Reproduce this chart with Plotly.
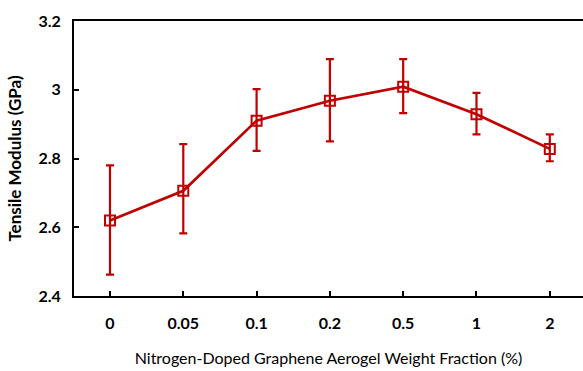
import plotly.graph_objects as go

categories = ["0", "0.05", "0.1", "0.2", "0.5", "1", "2"]
modulus = [2.62, 2.706, 2.91, 2.968, 3.009, 2.929, 2.828]
err_plus = [0.16, 0.136, 0.092, 0.121, 0.080, 0.062, 0.042]
err_minus = [0.158, 0.124, 0.088, 0.118, 0.077, 0.059, 0.036]

red = "#C00000"
font_family = "Lato, 'Open Sans', sans-serif"

fig = go.Figure()
fig.add_trace(go.Scatter(
    x=categories, y=modulus,
    mode="lines+markers",
    line=dict(color=red, width=2.7),
    marker=dict(symbol="square-open", size=10, color=red, line=dict(width=2, color=red)),
    error_y=dict(type="data", symmetric=False, array=err_plus, arrayminus=err_minus,
                 color=red, thickness=2.2, width=4),
    showlegend=False,
))

fig.update_layout(
    width=583, height=371,
    margin=dict(l=74, r=0, t=21, b=75),
    paper_bgcolor="white", plot_bgcolor="white",
    font=dict(family=font_family, color="black"),
)
fig.update_xaxes(
    type="category",
    range=[-0.491, 6.453],
    showline=True, linecolor="black", linewidth=2, mirror=True,
    ticks="inside", ticklen=5, tickwidth=2, tickcolor="black",
    showgrid=False, zeroline=False,
    tickfont=dict(size=16, family=font_family, weight="bold"),
    ticklabelstandoff=12,
    title=dict(text="Nitrogen-Doped Graphene Aerogel Weight Fraction (%)",
               font=dict(size=16, family=font_family), standoff=22),
)
fig.update_yaxes(
    range=[2.4, 3.2],
    tickvals=[2.4, 2.6, 2.8, 3.0, 3.2],
    ticktext=["2.4", "2.6", "2.8", "3", "3.2"],
    showline=True, linecolor="black", linewidth=2,
    ticks="inside", ticklen=5, tickwidth=2, tickcolor="black",
    showgrid=False, zeroline=False,
    tickfont=dict(size=16, family=font_family, weight="bold"),
    ticklabelstandoff=8,
    title=dict(text="Tensile Modulus (GPa)",
               font=dict(size=17, family=font_family, weight="bold"), standoff=12),
)

fig.write_html("out.html")
